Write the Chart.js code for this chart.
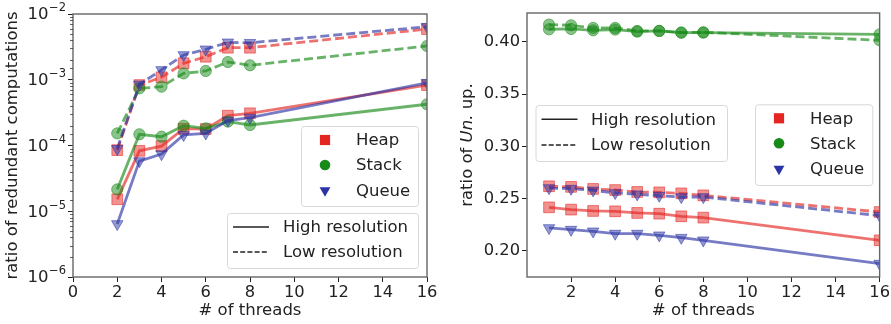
<!DOCTYPE html>
<html>
<head>
<meta charset="utf-8">
<script src="https://cdn.jsdelivr.net/npm/chart.js@4.4.0/dist/chart.umd.min.js"></script>
<style>
  body { margin: 0; background: #fff; }
  #wrap { position: relative; width: 891px; height: 324px; }
  #left { position: absolute; left: 0; top: 0; }
  #right { position: absolute; left: 445px; top: 0; }
</style>
</head>
<body>
<div id="wrap">
  <canvas id="left" width="445" height="324"></canvas>
  <canvas id="right" width="446" height="324"></canvas>
</div>
<script>
// threads (x)
const threadsRed = [2, 3, 4, 5, 6, 7, 8, 16];
const threadsUn = [1, 2, 3, 4, 5, 6, 7, 8, 16];

// ratio of redundant computations (left plot, log scale)
const heapHighRed  = [1.52e-5, 8.3e-5, 9.8e-5, 1.8e-4, 1.78e-4, 2.84e-4, 3.09e-4, 8.3e-4];
const stackHighRed = [2.15e-5, 1.48e-4, 1.36e-4, 2.0e-4, 1.82e-4, 2.31e-4, 2.05e-4, 4.24e-4];
const queueHighRed = [6.4e-6, 5.8e-5, 7.4e-5, 1.45e-4, 1.53e-4, 2.4e-4, 2.65e-4, 9.0e-4];
const heapLowRed   = [8.5e-5, 8.3e-4, 1.09e-3, 1.78e-3, 2.24e-3, 3.07e-3, 3.07e-3, 5.9e-3];
const stackLowRed  = [1.53e-4, 7.4e-4, 7.85e-4, 1.25e-3, 1.36e-3, 1.86e-3, 1.66e-3, 3.26e-3];
const queueLowRed  = [8.9e-5, 8.5e-4, 1.41e-3, 2.38e-3, 2.9e-3, 3.7e-3, 3.65e-3, 6.4e-3];

// ratio of Un. up. (right plot)
const heapHighUn  = [0.2415, 0.2393, 0.2380, 0.2377, 0.2361, 0.2354, 0.2329, 0.2316, 0.2099];
const stackHighUn = [0.4122, 0.4125, 0.4112, 0.4119, 0.4099, 0.4106, 0.4090, 0.4090, 0.4074];
const queueHighUn = [0.2217, 0.2201, 0.2185, 0.2163, 0.2163, 0.2147, 0.2124, 0.2099, 0.1875];
const heapLowUn   = [0.2617, 0.2611, 0.2591, 0.2581, 0.2562, 0.2559, 0.2549, 0.2530, 0.2370];
const stackLowUn  = [0.4167, 0.4160, 0.4135, 0.4135, 0.4106, 0.4106, 0.4090, 0.4093, 0.4016];
const queueLowUn  = [0.2600, 0.2594, 0.2578, 0.2553, 0.2540, 0.2527, 0.2514, 0.2514, 0.2335];

// ticks
const xTicksRed = [0, 2, 4, 6, 8, 10, 12, 14, 16];
const yExpRed = [-6, -5, -4, -3, -2];
const xTicksUn = [2, 4, 6, 8, 10, 12, 14, 16];
const yTicksUn = [0.20, 0.25, 0.30, 0.35, 0.40];

const structNames = ['Heap', 'Stack', 'Queue'];
const resNames = ['High resolution', 'Low resolution'];

const FONT = 'DejaVu Sans';
const TXT = '#222';
const colors = { Heap: '228,38,34', Stack: '24,138,24', Queue: '44,52,165' };
const markers = {
  Heap:  { pointStyle: 'rect', radius: 7.6, rotation: 0 },
  Stack: { pointStyle: 'circle', radius: 5.6, rotation: 0 },
  Queue: { pointStyle: 'triangle', radius: 6.6, rotation: 180 }
};

function makeSet(name, xs, ys, dashed) {
  const c = colors[name];
  const m = markers[name];
  return {
    label: name + (dashed ? ' low' : ' high'),
    data: xs.map((x, i) => ({ x: x, y: ys[i] })),
    borderColor: 'rgba(' + c + ',0.65)',
    backgroundColor: 'rgba(' + c + ',0.5)',
    borderWidth: 2.8,
    borderDash: dashed ? [9, 4] : [],
    pointStyle: m.pointStyle,
    pointRadius: m.radius,
    pointRotation: m.rotation,
    pointBorderWidth: 1,
    pointBorderColor: 'rgba(' + c + ',0.55)',
    pointBackgroundColor: 'rgba(' + c + ',0.5)',
    tension: 0
  };
}

function isDecade(v) {
  const e = Math.log10(v);
  return Math.abs(e - Math.round(e)) < 1e-9;
}

function legendFrame(ctx, x, y, w, h) {
  ctx.save();
  ctx.beginPath();
  ctx.roundRect(x + 0.5, y + 0.5, w, h, 3);
  ctx.fillStyle = 'rgba(255,255,255,0.8)';
  ctx.fill();
  ctx.strokeStyle = '#d8d8d8';
  ctx.lineWidth = 1;
  ctx.stroke();
  ctx.restore();
}

// legend with the three markers
function markerLegend(ctx, box, mx, tx, rows) {
  legendFrame(ctx, box[0], box[1], box[2], box[3]);
  ctx.save();
  ctx.font = '16.5px "' + FONT + '"';
  ctx.textBaseline = 'middle';
  structNames.forEach((n, i) => {
    const m = markers[n];
    ctx.fillStyle = 'rgb(' + colors[n] + ')';
    ctx.strokeStyle = 'rgb(' + colors[n] + ')';
    Chart.helpers.drawPoint(ctx, { pointStyle: m.pointStyle, radius: m.radius * 0.95, rotation: m.rotation, borderWidth: 0 }, mx, rows[i]);
    ctx.fillStyle = TXT;
    ctx.fillText(n, tx, rows[i] + 1);
  });
  ctx.restore();
}

// legend with solid / dashed line samples
function lineLegend(ctx, box, x0, x1, tx, rows) {
  legendFrame(ctx, box[0], box[1], box[2], box[3]);
  ctx.save();
  ctx.font = '16.5px "' + FONT + '"';
  ctx.textBaseline = 'middle';
  resNames.forEach((n, i) => {
    ctx.strokeStyle = TXT;
    ctx.lineWidth = 1.5;
    ctx.setLineDash(i === 0 ? [] : [5, 2.2]);
    ctx.beginPath();
    ctx.moveTo(x0, rows[i]);
    ctx.lineTo(x1, rows[i]);
    ctx.stroke();
    ctx.fillStyle = TXT;
    ctx.fillText(n, tx, rows[i] + 1);
  });
  ctx.restore();
}

function frame(chart) {
  const a = chart.chartArea;
  const ctx = chart.ctx;
  ctx.save();
  ctx.strokeStyle = '#666';
  ctx.lineWidth = 1.4;
  ctx.strokeRect(a.left, a.top, a.right - a.left, a.bottom - a.top);
  ctx.restore();
}

// 10^n labels and short minor ticks for the log axis
function logAxisLabels(chart) {
  const ys = chart.scales.y;
  const ctx = chart.ctx;
  const left = chart.chartArea.left;
  ctx.save();
  ctx.strokeStyle = TXT;
  ctx.lineWidth = 0.7;
  ys.ticks.forEach(t => {
    if (isDecade(t.value)) return;
    const py = Math.round(ys.getPixelForValue(t.value)) + 0.5;
    ctx.beginPath();
    ctx.moveTo(left - 3, py);
    ctx.lineTo(left, py);
    ctx.stroke();
  });
  ctx.fillStyle = TXT;
  ctx.textBaseline = 'middle';
  yExpRed.forEach(e => {
    const py = ys.getPixelForValue(Math.pow(10, e));
    const right = left - 7;
    ctx.font = '11.5px "' + FONT + '"';
    const supTxt = '\u2212' + Math.abs(e);
    const sw = ctx.measureText(supTxt).width;
    ctx.textAlign = 'right';
    ctx.fillText(supTxt, right, py - 5.5);
    ctx.font = '16.5px "' + FONT + '"';
    ctx.fillText('10', right - sw - 0.5, py + 1);
  });
  ctx.restore();
}

const tickFont = { family: FONT, size: 16.3 };
const titleFont = { family: FONT, size: 16.5 };

// left: ratio of redundant computations
new Chart(document.getElementById('left'), {
  type: 'line',
  data: {
    datasets: [
      makeSet('Queue', threadsRed, queueLowRed, true),
      makeSet('Stack', threadsRed, stackLowRed, true),
      makeSet('Heap', threadsRed, heapLowRed, true),
      makeSet('Queue', threadsRed, queueHighRed, false),
      makeSet('Stack', threadsRed, stackHighRed, false),
      makeSet('Heap', threadsRed, heapHighRed, false)
    ]
  },
  options: {
    responsive: false,
    animation: false,
    devicePixelRatio: 1,
    layout: { padding: { top: 14, right: 18, left: 0, bottom: 0 } },
    plugins: { legend: { display: false }, tooltip: { enabled: false } },
    scales: {
      x: {
        type: 'linear', min: 0, max: 16,
        afterBuildTicks: s => { s.ticks = xTicksRed.map(v => ({ value: v })); },
        ticks: { font: tickFont, color: TXT, padding: 1, maxRotation: 0 },
        grid: { drawOnChartArea: false, tickLength: 5, tickColor: TXT },
        border: { display: false },
        title: { display: true, text: '# of threads', font: titleFont, color: TXT, padding: { top: 0, bottom: 3 } },
        afterFit: s => { s.height = 47; }
      },
      y: {
        type: 'logarithmic', min: 1e-6, max: 1e-2,
        ticks: { font: tickFont, color: TXT, padding: 2, autoSkip: false, callback: () => '' },
        grid: {
          drawOnChartArea: false, tickLength: 5,
          tickColor: c => isDecade(c.tick.value) ? TXT : 'rgba(0,0,0,0)'
        },
        border: { display: false },
        title: { display: true, text: 'ratio of redundant computations', font: titleFont, color: TXT, padding: { top: 3, bottom: 0 } },
        afterFit: s => { s.width = 73; }
      }
    }
  },
  plugins: [{
    id: 'leftDecor',
    afterDraw(chart) {
      frame(chart);
      logAxisLabels(chart);
      markerLegend(chart.ctx, [301, 126, 117, 80], 325, 356, [140, 165, 190.5]);
      lineLegend(chart.ctx, [227, 213, 191, 55], 233, 269, 283, [227, 252]);
    }
  }]
});

// right: ratio of Un. up.
new Chart(document.getElementById('right'), {
  type: 'line',
  data: {
    datasets: [
      makeSet('Queue', threadsUn, queueLowUn, true),
      makeSet('Stack', threadsUn, stackLowUn, true),
      makeSet('Heap', threadsUn, heapLowUn, true),
      makeSet('Queue', threadsUn, queueHighUn, false),
      makeSet('Stack', threadsUn, stackHighUn, false),
      makeSet('Heap', threadsUn, heapHighUn, false)
    ]
  },
  options: {
    responsive: false,
    animation: false,
    devicePixelRatio: 1,
    layout: { padding: { top: 13, right: 10, left: 0, bottom: 0 } },
    plugins: { legend: { display: false }, tooltip: { enabled: false } },
    scales: {
      x: {
        type: 'linear', min: 0, max: 16,
        afterBuildTicks: s => { s.ticks = xTicksUn.map(v => ({ value: v })); },
        ticks: { font: tickFont, color: TXT, padding: 1, maxRotation: 0 },
        grid: { drawOnChartArea: false, tickLength: 5, tickColor: TXT },
        border: { display: false },
        title: { display: true, text: '# of threads', font: titleFont, color: TXT, padding: { top: 0, bottom: 3 } },
        afterFit: s => { s.height = 47; }
      },
      y: {
        type: 'linear', min: 0.1747, max: 0.4278,
        afterBuildTicks: s => { s.ticks = yTicksUn.map(v => ({ value: v })); },
        ticks: { font: tickFont, color: TXT, padding: 2, callback: v => v.toFixed(2) },
        grid: { drawOnChartArea: false, tickLength: 5, tickColor: TXT },
        border: { display: false },
        afterFit: s => { s.width = 82; }
      }
    }
  },
  plugins: [{
    id: 'rightDecor',
    afterDraw(chart) {
      frame(chart);
      const ctx = chart.ctx;
      // y title with italic "Un."
      const parts = [['ratio of ', ''], ['Un.', 'italic '], [' up.', '']];
      ctx.save();
      ctx.translate(23, 145);
      ctx.rotate(-Math.PI / 2);
      ctx.textBaseline = 'middle';
      ctx.fillStyle = TXT;
      let total = 0;
      parts.forEach(p => { ctx.font = p[1] + '16.5px "' + FONT + '"'; total += ctx.measureText(p[0]).width; });
      let x = -total / 2;
      parts.forEach(p => {
        ctx.font = p[1] + '16.5px "' + FONT + '"';
        ctx.fillText(p[0], x, 0);
        x += ctx.measureText(p[0]).width;
      });
      ctx.restore();
      lineLegend(ctx, [90.5, 105, 191.5, 56], 96.5, 132.5, 146, [119.3, 145]);
      markerLegend(ctx, [310, 104.3, 117.3, 80.7], 334, 365, [118.3, 143.3, 169]);
    }
  }]
});
</script>
</body>
</html>
